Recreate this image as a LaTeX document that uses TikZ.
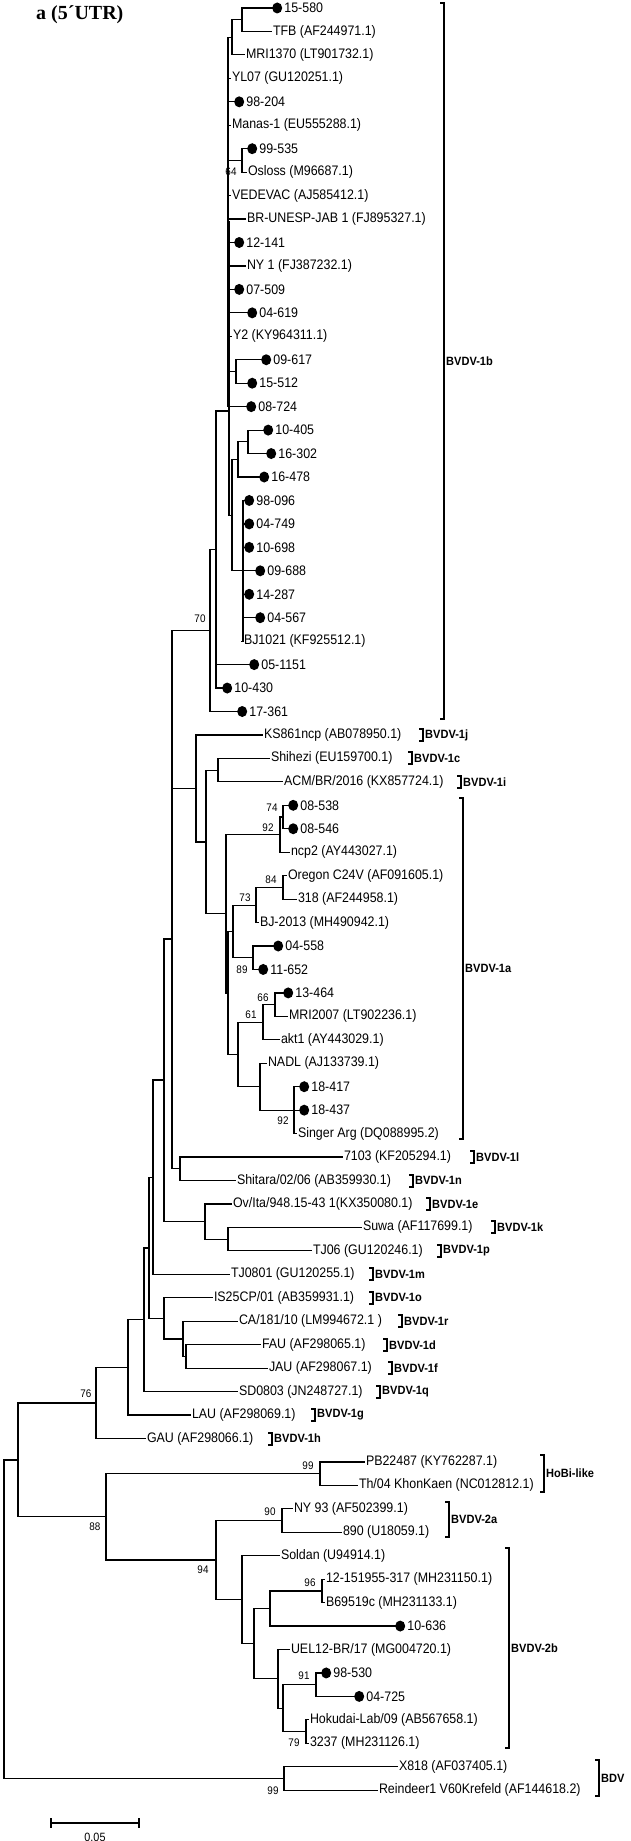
\documentclass[tikz,border=0pt]{standalone}
\usepackage{fontspec}
\usetikzlibrary{shapes.geometric}
\setmainfont{Liberation Sans}
\newfontfamily\leaffont[FakeStretch=0.9]{Liberation Sans}
\newfontfamily\cladefont[FakeStretch=0.92]{Liberation Sans}
\newfontfamily\titlefont{Liberation Serif}
\newcommand{\lfT}[5]{\coordinate (#1) at (#3,#4); \draw[br] (#2) |- (#1); \node[lab] (#1t) at (#1) {#5};}
\newcommand{\lfD}[5]{\coordinate (#1) at (#3,#4); \draw[br] (#2) |- (#1); \node[dotmark] (#1d) at (#1) {}; \node[lab] (#1t) at (#1d.east) {#5};}
\newcommand{\inode}[4]{\coordinate (#1) at (#3,#4); \draw[br] (#2) |- (#1);}
\newcommand{\brk}[5]{\draw[bk] (#2-4,#3) -- (#2,#3) -- (#2,#4) -- (#2-4,#4); \node[clab] (#1) at (#2+0.5,{(#3+#4)/2}) {#5};}
\begin{document}
\begin{tikzpicture}[x=1pt,y=-1pt,
  br/.style={line width=1.2pt,line cap=rect},
  bk/.style={line width=2pt},
  lab/.style={anchor=west,inner xsep=1.8pt,inner ysep=0pt,font=\leaffont\fontsize{13.8}{14}\selectfont},
  dotmark/.style={ellipse,fill=black,minimum width=10pt,minimum height=11pt,inner sep=0pt,anchor=west},
  clab/.style={anchor=west,inner xsep=1.5pt,font=\cladefont\bfseries\fontsize{12}{13}\selectfont},
  bs/.style={inner sep=0pt,font=\leaffont\fontsize{11}{12}\selectfont}]
\useasboundingbox (0,0) rectangle (630,1841);
\node[anchor=west,inner sep=0pt,font=\titlefont\bfseries\fontsize{20}{22}\selectfont] (title) at (36,15) {a (5´UTR)};
% internal nodes
\coordinate (root) at (4,1619);
\inode{OO}{root}{18}{1460}
\inode{BC}{root}{284}{1778.5}
\inode{NN}{OO}{96}{1403}
\inode{PP}{OO}{106}{1516.8}
\inode{LL}{NN}{128}{1367.3}
\inode{KK}{LL}{144}{1319.6}
\inode{MM}{KK}{149}{1247.9}
\inode{GG}{MM}{153}{1177.3}
\inode{HH}{MM}{164}{1318.4}
\inode{II}{HH}{183}{1339}
\inode{JJ}{II}{186}{1356.4}
\inode{CC}{GG}{164}{1079.9}
\inode{DD}{CC}{172}{939}
\inode{EE}{CC}{205}{1221.5}
\inode{FF}{EE}{228}{1239.1}
\inode{AA}{DD}{172}{709.5}
\inode{BB}{DD}{180}{1168.8}
\inode{H}{AA}{210}{630.5}
\inode{J}{AA}{196}{788.4}
\inode{G}{H}{216}{549.5}
\inode{F}{G}{229}{411}
\inode{P1b}{F}{228}{222}
\inode{A}{P1b}{232}{37.3}
\inode{B}{A}{242}{19.7}
\inode{N64}{P1b}{242}{160.4}
\inode{N617}{P1b}{236}{371.5}
\inode{D}{F}{232}{515.1}
\inode{C}{D}{238}{459.4}
\inode{C1}{C}{248}{441.8}
\inode{E}{D}{243}{570.8}
\inode{K}{J}{206}{842}
\inode{SC}{K}{218}{770.1}
\inode{R}{K}{226}{913.8}
\inode{L}{R}{280}{834.6}
\inode{M}{L}{283}{817}
\inode{R2}{R}{228}{993}
\inode{P}{R2}{233}{931.5}
\inode{O}{P}{256}{905.2}
\inode{N}{O}{283}{887.4}
\inode{Q}{P}{253}{957.7}
\inode{X}{R2}{238}{1054.4}
\inode{W}{X}{263}{1022.2}
\inode{V}{W}{275}{1004.6}
\inode{Y}{X}{260}{1086.7}
\inode{Z}{Y}{294}{1110.15}
\inode{QQ}{PP}{320}{1473.6}
\inode{RR}{PP}{216}{1560}
\inode{SS}{RR}{282}{1520.5}
\inode{TT}{RR}{242}{1599.7}
\inode{UU}{TT}{254}{1643.6}
\inode{VV}{UU}{270}{1608.5}
\inode{WW}{VV}{322}{1590.9}
\inode{XX}{UU}{278}{1678.7}
\inode{AB}{XX}{283}{1708.1}
\inode{YY}{AB}{316}{1684.7}
\inode{ZZ}{AB}{306}{1731.6}
% leaves
\lfD{l1}{B}{272}{8}{15-580}
\lfT{l2}{B}{271}{31.45}{TFB (AF244971.1)}
\lfT{l3}{A}{244}{54.9}{MRI1370 (LT901732.1)}
\lfT{l4}{P1b}{230}{78.35}{YL07 (GU120251.1)}
\lfD{l5}{P1b}{234}{101.8}{98-204}
\lfT{l6}{P1b}{230}{125.25}{Manas-1 (EU555288.1)}
\lfD{l7}{N64}{247}{148.7}{99-535}
\lfT{l8}{N64}{246}{172.15}{Osloss (M96687.1)}
\lfT{l9}{P1b}{230}{195.6}{VEDEVAC (AJ585412.1)}
\lfT{l10}{P1b}{245}{219.05}{BR-UNESP-JAB 1 (FJ895327.1)}
\lfD{l11}{P1b}{234}{242.5}{12-141}
\lfT{l12}{P1b}{245}{265.95}{NY 1 (FJ387232.1)}
\lfD{l13}{P1b}{234}{289.4}{07-509}
\lfD{l14}{P1b}{247}{312.85}{04-619}
\lfT{l15}{P1b}{231}{336.3}{Y2 (KY964311.1)}
\lfD{l16}{N617}{261}{359.75}{09-617}
\lfD{l17}{N617}{247}{383.2}{15-512}
\lfD{l18}{P1b}{246}{406.65}{08-724}
\lfD{l19}{C1}{263}{430.1}{10-405}
\lfD{l20}{C1}{266}{453.55}{16-302}
\lfD{l21}{C}{259}{477}{16-478}
\lfD{l22}{E}{244}{500.45}{98-096}
\lfD{l23}{E}{244}{523.9}{04-749}
\lfD{l24}{E}{244}{547.35}{10-698}
\lfD{l25}{E}{255}{570.8}{09-688}
\lfD{l26}{E}{244}{594.25}{14-287}
\lfD{l27}{E}{255}{617.7}{04-567}
\lfT{l28}{E}{242}{641.15}{BJ1021 (KF925512.1)}
\lfD{l29}{G}{249}{664.6}{05-1151}
\lfD{l30}{G}{222}{688.05}{10-430}
\lfD{l31}{H}{237}{711.5}{17-361}
\lfT{l32}{J}{262}{734.95}{KS861ncp (AB078950.1)}
\lfT{l33}{SC}{269}{758.4}{Shihezi (EU159700.1)}
\lfT{l34}{SC}{282}{781.85}{ACM/BR/2016 (KX857724.1)}
\lfD{l35}{M}{288}{805.3}{08-538}
\lfD{l36}{M}{288}{828.75}{08-546}
\lfT{l37}{L}{289}{852.2}{ncp2 (AY443027.1)}
\lfT{l38}{N}{286}{875.65}{Oregon C24V (AF091605.1)}
\lfT{l39}{N}{296}{899.1}{318 (AF244958.1)}
\lfT{l40}{O}{258}{922.55}{BJ-2013 (MH490942.1)}
\lfD{l41}{Q}{273}{946}{04-558}
\lfD{l42}{Q}{258}{969.45}{11-652}
\lfD{l43}{V}{283}{992.9}{13-464}
\lfT{l44}{V}{287}{1016.35}{MRI2007 (LT902236.1)}
\lfT{l45}{W}{279}{1039.8}{akt1 (AY443029.1)}
\lfT{l46}{Y}{266}{1063.25}{NADL (AJ133739.1)}
\lfD{l47}{Z}{299}{1086.7}{18-417}
\lfD{l48}{Z}{299}{1110.15}{18-437}
\lfT{l49}{Z}{296}{1133.6}{Singer Arg (DQ088995.2)}
\lfT{l50}{BB}{342}{1157.05}{7103 (KF205294.1)}
\lfT{l51}{BB}{235}{1180.5}{Shitara/02/06 (AB359930.1)}
\lfT{l52}{EE}{231}{1203.95}{Ov/Ita/948.15-43 1(KX350080.1)}
\lfT{l53}{FF}{361}{1227.4}{Suwa (AF117699.1)}
\lfT{l54}{FF}{311}{1250.85}{TJ06 (GU120246.1)}
\lfT{l55}{GG}{229}{1274.3}{TJ0801 (GU120255.1)}
\lfT{l56}{HH}{212}{1297.75}{IS25CP/01 (AB359931.1)}
\lfT{l57}{II}{237}{1321.2}{CA/181/10 (LM994672.1 )}
\lfT{l58}{JJ}{260}{1344.65}{FAU (AF298065.1)}
\lfT{l59}{JJ}{267}{1368.1}{JAU (AF298067.1)}
\lfT{l60}{KK}{237}{1391.55}{SD0803 (JN248727.1)}
\lfT{l61}{LL}{190}{1415}{LAU (AF298069.1)}
\lfT{l62}{NN}{145}{1438.45}{GAU (AF298066.1)}
\lfT{l63}{QQ}{364}{1461.9}{PB22487 (KY762287.1)}
\lfT{l64}{QQ}{357}{1485.35}{Th/04 KhonKaen (NC012812.1)}
\lfT{l65}{SS}{292}{1508.8}{NY 93 (AF502399.1)}
\lfT{l66}{SS}{341}{1532.25}{890 (U18059.1)}
\lfT{l67}{TT}{279}{1555.7}{Soldan (U94914.1)}
\lfT{l68}{WW}{324}{1579.15}{12-151955-317 (MH231150.1)}
\lfT{l69}{WW}{324}{1602.6}{B69519c (MH231133.1)}
\lfD{l70}{VV}{395}{1626.05}{10-636}
\lfT{l71}{XX}{289}{1649.5}{UEL12-BR/17 (MG004720.1)}
\lfD{l72}{YY}{321}{1672.95}{98-530}
\lfD{l73}{YY}{354}{1696.4}{04-725}
\lfT{l74}{ZZ}{308}{1719.85}{Hokudai-Lab/09 (AB567658.1)}
\lfT{l75}{ZZ}{308}{1743.3}{3237 (MH231126.1)}
\lfT{l76}{BC}{397}{1766.75}{X818 (AF037405.1)}
\lfT{l77}{BC}{377}{1790.2}{Reindeer1 V60Krefeld (AF144618.2)}
% bootstrap values
\node[bs] (b1) at (231,172) {64};
\node[bs] (b2) at (200,619) {70};
\node[bs] (b3) at (272,808) {74};
\node[bs] (b4) at (268,828) {92};
\node[bs] (b5) at (271,880) {84};
\node[bs] (b6) at (245,898) {73};
\node[bs] (b7) at (242,970) {89};
\node[bs] (b8) at (263,998) {66};
\node[bs] (b9) at (251,1015) {61};
\node[bs] (b10) at (283,1121) {92};
\node[bs] (b11) at (86,1394) {76};
\node[bs] (b12) at (308,1466) {99};
\node[bs] (b13) at (95,1527) {88};
\node[bs] (b14) at (270,1512) {90};
\node[bs] (b15) at (203,1570) {94};
\node[bs] (b16) at (310,1583) {96};
\node[bs] (b17) at (304,1676) {91};
\node[bs] (b18) at (294,1743) {79};
\node[bs] (b19) at (273,1791) {99};
% clade brackets
\brk{c1b}{444}{3}{719}{BVDV-1b}
\brk{c1j}{423}{729}{741}{BVDV-1j}
\brk{c1c}{412}{752.4}{764.4}{BVDV-1c}
\brk{c1i}{461}{775.9}{787.9}{BVDV-1i}
\brk{c1a}{463}{798}{1139}{BVDV-1a}
\brk{c1l}{474}{1151}{1163}{BVDV-1l}
\brk{c1n}{413}{1174.5}{1186.5}{BVDV-1n}
\brk{c1e}{430}{1198}{1210}{BVDV-1e}
\brk{c1k}{495}{1221.4}{1233.4}{BVDV-1k}
\brk{c1p}{441}{1244.9}{1256.9}{BVDV-1p}
\brk{c1m}{373}{1268.3}{1280.3}{BVDV-1m}
\brk{c1o}{373}{1291.8}{1303.8}{BVDV-1o}
\brk{c1r}{402}{1315.2}{1327.2}{BVDV-1r}
\brk{c1d}{387}{1338.7}{1350.7}{BVDV-1d}
\brk{c1f}{392}{1362.1}{1374.1}{BVDV-1f}
\brk{c1q}{380}{1385.6}{1397.6}{BVDV-1q}
\brk{c1g}{315}{1409}{1421}{BVDV-1g}
\brk{c1h}{272}{1432.5}{1444.5}{BVDV-1h}
\brk{cHo}{544}{1455}{1492}{HoBi-like}
\brk{c2a}{449}{1502}{1537}{BVDV-2a}
\brk{c2b}{509}{1548}{1748}{BVDV-2b}
\brk{cBD}{599}{1760}{1796}{BDV}
% scale bar
\coordinate (s1) at (51,1823);
\coordinate (s2) at (139,1823);
\draw[br] (s1) -- (s2);
\draw[br] (51,1819) -- (51,1827);
\draw[br] (139,1819) -- (139,1827);
\node[bs,font=\leaffont\fontsize{12}{13}\selectfont] (sl) at (95,1837) {0.05};
\end{tikzpicture}
\end{document}
